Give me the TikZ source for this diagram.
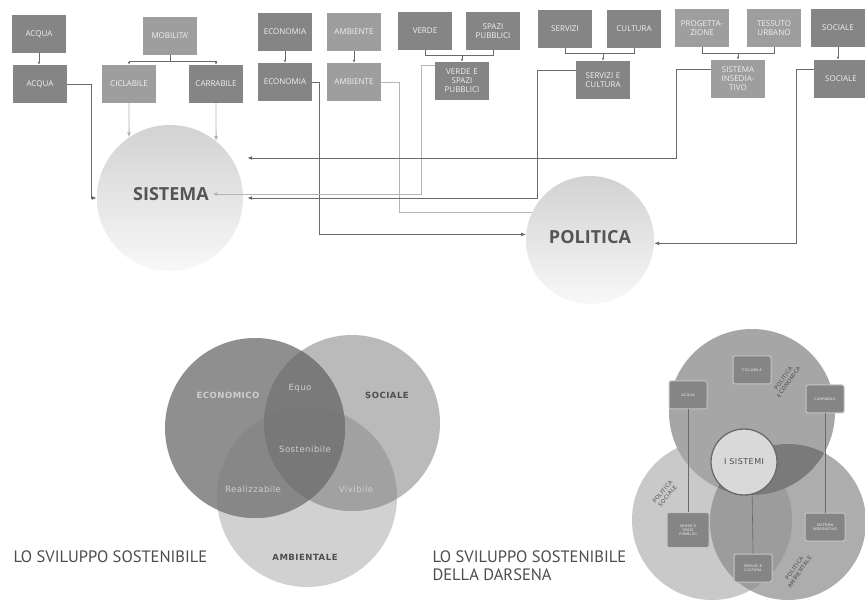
\documentclass[tikz,border=0pt]{standalone}
\usepackage{fontspec}
\setmainfont{Open Sans}
\newfontfamily\vennfont{DejaVu Sans}[LetterSpace=6]
\newfontfamily\titlefont{PT Sans}
\usetikzlibrary{arrows.meta}

\def\ecocircle{(255,428) circle (90pt)}
\def\soccircle{(352,423) circle (88pt)}
\def\ambcircle{(307,497) circle (90pt)}
\def\ecoring{(752,412) circle (83pt)}
\def\socring{(712,520) circle (80pt)}
\def\ambring{(788,522) circle (78pt)}
\definecolor{tile}{HTML}{858585}
\definecolor{tile pale}{HTML}{9E9E9E}
\definecolor{tile text}{HTML}{F0F0F0}
\definecolor{link edge}{HTML}{6A6A6A}
\definecolor{link pale}{HTML}{B4B4B4}
\definecolor{hub top}{HTML}{D2D2D2}
\definecolor{hub bottom}{HTML}{F8F8F8}
\definecolor{hub text}{HTML}{555555}
\definecolor{venn light}{HTML}{CFCFCF}
\definecolor{venn dark}{HTML}{4D4D4D}
\tikzset{tile/.style={fill=tile, text=tile text, minimum width=54pt, minimum height=38pt,
    inner sep=1pt, text width=52pt, align=center, font=\fontsize{8}{9}\selectfont},
  pale tile/.style={tile, fill=tile pale},
  link/.style={draw=link edge, line width=0.9pt, -{Latex[length=5pt,width=4pt]}},
  pale link/.style={link, draw=link pale},
  stub link/.style={draw=link edge, line width=0.6pt, -{Latex[length=3pt,width=2.5pt]}},
  hub/.style={circle, inner sep=0pt, top color=hub top, bottom color=hub bottom},
  hub label/.style={font=\bfseries\fontsize{18}{20}\selectfont, text=hub text},
  venn label/.style={font=\vennfont\fontsize{8.5}{10}\selectfont, text=venn light},
  venn bold/.style={venn label, font=\vennfont\bfseries\fontsize{8.5}{10}\selectfont},
  chip/.style={rounded corners=2pt, fill=tile, draw=gray!45, line width=1pt, text=tile text,
    minimum width=38pt, minimum height=28pt, inner sep=1pt, align=center,
    font=\vennfont\fontsize{3.5}{4.2}\selectfont},
  core/.style={circle, minimum size=66pt, inner sep=0pt, draw=link edge, line width=1.3pt,
    fill=gray!30, text=venn dark, font=\vennfont\fontsize{8}{9}\selectfont},
  ring label/.style={align=center, inner sep=0pt, text=venn dark, font=\vennfont\fontsize{5.5}{6.5}\selectfont},
  caption text/.style={align=left, text=venn dark, font=\titlefont\fontsize{16.5}{18}\selectfont}}

\begin{document}
\begin{tikzpicture}[x=1pt, y=-1pt]
  \useasboundingbox[fill=white] (0,0) rectangle (865,601);

  \fill[gray!36] \ambcircle;
  \fill[gray!54] \soccircle;
  \fill[gray!88] \ecocircle;
  \begin{scope}
    \clip \ambcircle;
    \fill[black!37] \soccircle;
    \fill[black!47] \ecocircle;
  \end{scope}
  \begin{scope}
    \clip \soccircle;
    \fill[black!52] \ecocircle;
    \clip \ambcircle;
    \fill[black!53] \ecocircle;
  \end{scope}

  \fill[gray!42] \socring;
  \fill[gray!70] \ecoring;
  \fill[gray!64] \ambring;
  \begin{scope}
    \clip \ambring;
    \fill[gray!78] \socring;
    \fill[black!52] \ecoring;
  \end{scope}

  \node[tile] (acquaA) at (39,34) {ACQUA};
  \node[pale tile] (mobilita) at (170,36) {MOBILITA'};
  \node[tile] (economiaA) at (285,32) {ECONOMIA};
  \node[pale tile] (ambienteA) at (354,32) {AMBIENTE};
  \node[tile] (verde) at (425,31) {VERDE};
  \node[tile] (spazi) at (493,31) {SPAZI\\PUBBLICI};
  \node[tile] (servizi) at (565,29) {SERVIZI};
  \node[tile] (cultura) at (634,29) {CULTURA};
  \node[pale tile] (progettazione) at (702,28) {PROGETTA-\\ZIONE};
  \node[pale tile] (tessuto) at (774,28) {TESSUTO\\URBANO};
  \node[tile] (socialeA) at (838,28) {SOCIALE};

  \node[tile] (acquaB) at (40,84) {ACQUA};
  \node[pale tile] (ciclabile) at (129,84) {CICLABILE};
  \node[tile] (carrabile) at (216,84) {CARRABILE};
  \node[tile] (economiaB) at (285,82) {ECONOMIA};
  \node[pale tile] (ambienteB) at (354,82) {AMBIENTE};
  \node[tile] (verdespazi) at (462,81) {VERDE E\\SPAZI\\PUBBLICI};
  \node[tile] (servcult) at (603,80) {SERVIZI E\\CULTURA};
  \node[pale tile] (insediativo) at (738,79) {SISTEMA\\INSEDIA-\\TIVO};
  \node[tile] (socialeB) at (841,79) {SOCIALE};

  \draw[stub link] (acquaA.south) -- (acquaA.south |- acquaB.north);
  \draw[stub link] (economiaA) -- (economiaB);
  \draw[stub link] (ambienteA) -- (ambienteB);
  \draw[stub link] (socialeA.south) -- (socialeA.south |- socialeB.north);
  \draw[stub link, -] (mobilita.south) -- ++(0,6) coordinate (mobj);
  \draw[stub link] (mobj) -| (ciclabile.north);
  \draw[stub link] (mobj) -| (carrabile.north);
  \draw[stub link, -] (verde.south) -- ++(0,5) coordinate (vj) -| (spazi.south);
  \draw[stub link] (vj -| verdespazi.north) -- (verdespazi.north);
  \draw[stub link, -] (servizi.south) -- ++(0,5) coordinate (sj) -| (cultura.south);
  \draw[stub link] (sj -| servcult.north) -- (servcult.north);
  \draw[stub link, -] (progettazione.south) -- ++(0,6) coordinate (pj) -| (tessuto.south);
  \draw[stub link] (pj -| insediativo.north) -- (insediativo.north);

  \node[hub, minimum size=146pt] (sistema) at (170,198) {};
  \node[hub label] (sislabel) at (171,194) {SISTEMA};
  \node[hub, minimum size=128pt] (politica) at (590,240) {};
  \node[hub label] (pollabel) at (590,237) {POLITICA};

  \draw[link] (acquaB.east) -| ([xshift=-5pt]sistema.west) -- (sistema.west);
  \draw[pale link] (ciclabile.south) -- (sistema.124);
  \draw[pale link] (carrabile.south) -- (sistema.51);
  \draw[link] (economiaB.east) -- ++(7,0) |- (politica.175);
  \draw[pale link, -] (ambienteB.east) -- ++(18,0) |- (politica.155);
  \draw[pale link] ([yshift=-4pt]verdespazi.north west) -- ++(-13,0) |- (sislabel.east);
  \draw[link] ([yshift=-10pt]servcult.north west) -- ++(-38,0) |- ([xshift=4pt]sistema.east);
  \draw[link] ([yshift=-10pt]insediativo.north west) -- ++(-34,0) |- ([shift={(4pt,40pt)}]sistema.east);
  \draw[link] ([yshift=-10pt]socialeB.north west) -- ++(-17,0) |- (politica.-3);

  \node[venn bold] (economico) at (228,395) {ECONOMICO};
  \node[venn label] (equo) at (300,388) {Equo};
  \node[venn bold, text=venn dark] (sociale) at (387,395) {SOCIALE};
  \node[venn label] (sostenibile) at (305,449) {Sostenibile};
  \node[venn label] (realizzabile) at (253,489) {Realizzabile};
  \node[venn label] (vivibile) at (356,489) {Vivibile};
  \node[venn bold, text=venn dark] (ambientale) at (305,557) {AMBIENTALE};

  \node[chip] (acquaS) at (688,395) {ACQUA};
  \node[chip] (ciclabS) at (752,370) {CICLABILE};
  \node[chip] (carrabS) at (825,399) {CARRABILE};
  \node[chip, minimum width=42pt, minimum height=35pt] (verdeS) at (688,530) {VERDE E\\SPAZI\\PUBBLICI};
  \node[chip] (servS) at (753,568) {SERVIZI E\\CULTURA};
  \node[chip, minimum width=40pt] (insedS) at (825,527) {SISTEMA\\INSEDIATIVO};
  \node[core] (sistemi) at (744,462) {I SISTEMI};
  \draw[link edge, line width=0.6pt] (acquaS) -- (verdeS);
  \draw[link edge, line width=0.6pt] (sistemi.-76) -- (servS.north);
  \draw[link edge, line width=0.6pt] (carrabS) -- (insedS);

  \node[ring label, rotate=55] (poleco) at (786,380) {POLITICA\\ECONOMICA};
  \node[ring label, rotate=50] (polsoc) at (665,494) {POLITICA\\SOCIALE};
  \node[ring label, rotate=55] (polamb) at (797,570) {POLITICA\\AMBIENTALE};

  \node[caption text, anchor=west] (title) at (10,557) {LO SVILUPPO SOSTENIBILE};
  \node[caption text, anchor=north west] (darsena) at (429,547) {LO SVILUPPO SOSTENIBILE\\DELLA DARSENA};
\end{tikzpicture}
\end{document}
